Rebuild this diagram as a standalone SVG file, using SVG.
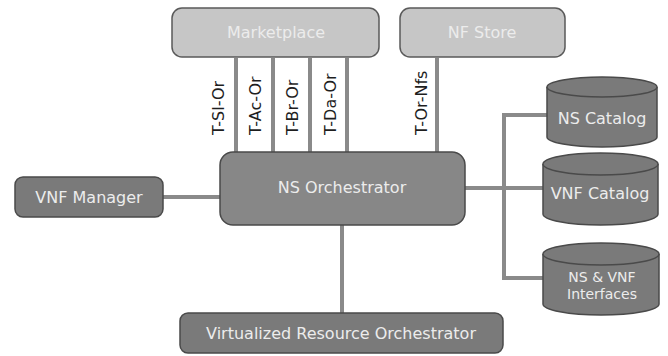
<svg xmlns="http://www.w3.org/2000/svg" width="668" height="356" viewBox="0 0 668 356">
  <style>
    .conn { stroke: #8a8a8a; stroke-width: 4; fill: none; }
    .light { fill: #c6c6c6; stroke: #5a5a5a; stroke-width: 1.5; }
    .dark { fill: #7a7a7a; stroke: #4a4a4a; stroke-width: 1.5; }
    .orch { fill: #878787; stroke: #4a4a4a; stroke-width: 1.5; }
    .lbl { font-family: "DejaVu Sans", sans-serif; font-size: 16px; fill: #ececec; text-anchor: middle; }
    .small { font-size: 14px; }
    .iface { font-family: "DejaVu Sans", sans-serif; font-size: 16px; fill: #1e1e1e; }
  </style>

  <!-- connectors -->
  <g id="connectors">
    <line class="conn" x1="236" y1="58" x2="236" y2="152"/>
    <line class="conn" x1="273" y1="58" x2="273" y2="152"/>
    <line class="conn" x1="310" y1="58" x2="310" y2="152"/>
    <line class="conn" x1="347" y1="58" x2="347" y2="152"/>
    <line class="conn" x1="437" y1="58" x2="437" y2="152"/>
    <line class="conn" x1="163" y1="197" x2="220" y2="197"/>
    <line class="conn" x1="342" y1="225" x2="342" y2="313"/>
    <line class="conn" x1="465" y1="188" x2="544" y2="188"/>
    <polyline class="conn" points="548,115 504,115 504,278 543,278"/>
    <text class="iface" transform="translate(224,135) rotate(-90)">T-Sl-Or</text>
    <text class="iface" transform="translate(261,135) rotate(-90)">T-Ac-Or</text>
    <text class="iface" transform="translate(298,135) rotate(-90)">T-Br-Or</text>
    <text class="iface" transform="translate(336,135) rotate(-90)">T-Da-Or</text>
    <text class="iface" transform="translate(427,135) rotate(-90)">T-Or-Nfs</text>
  </g>

  <g id="marketplace">
    <rect class="light" x="172" y="8" width="207" height="49" rx="10"/>
    <text class="lbl" x="276" y="38">Marketplace</text>
  </g>

  <g id="nf-store">
    <rect class="light" x="400" y="8" width="165" height="49" rx="10"/>
    <text class="lbl" x="482" y="38">NF Store</text>
  </g>

  <g id="vnf-manager">
    <rect class="dark" x="15" y="177" width="148" height="40" rx="8"/>
    <text class="lbl" x="89" y="203">VNF Manager</text>
  </g>

  <g id="ns-orchestrator">
    <rect class="orch" x="220" y="152" width="245" height="73" rx="13"/>
    <text class="lbl" x="342" y="193">NS Orchestrator</text>
  </g>

  <g id="vr-orchestrator">
    <rect class="dark" x="180" y="313" width="323" height="40" rx="8"/>
    <text class="lbl" x="341" y="339">Virtualized Resource Orchestrator</text>
  </g>

  <g id="ns-catalog">
    <path class="dark" d="M547,87 A55,10 0 0 1 657,87 L657,137 A55,10 0 0 1 547,137 Z"/>
    <path class="dark" d="M547,87 A55,10 0 0 0 657,87" fill="none"/>
    <text class="lbl" x="602" y="124">NS Catalog</text>
  </g>

  <g id="vnf-catalog">
    <path class="dark" d="M543,164 A57.5,11 0 0 1 658,164 L658,214 A57.5,11 0 0 1 543,214 Z"/>
    <path class="dark" d="M543,164 A57.5,11 0 0 0 658,164" fill="none"/>
    <text class="lbl" x="600" y="199">VNF Catalog</text>
  </g>

  <g id="ns-vnf-interfaces">
    <path class="dark" d="M543,254 A58,11 0 0 1 659,254 L659,304 A58,11 0 0 1 543,304 Z"/>
    <path class="dark" d="M543,254 A58,11 0 0 0 659,254" fill="none"/>
    <text class="lbl small" x="602" y="282">NS &amp; VNF</text>
    <text class="lbl small" x="602" y="299">Interfaces</text>
  </g>
</svg>
